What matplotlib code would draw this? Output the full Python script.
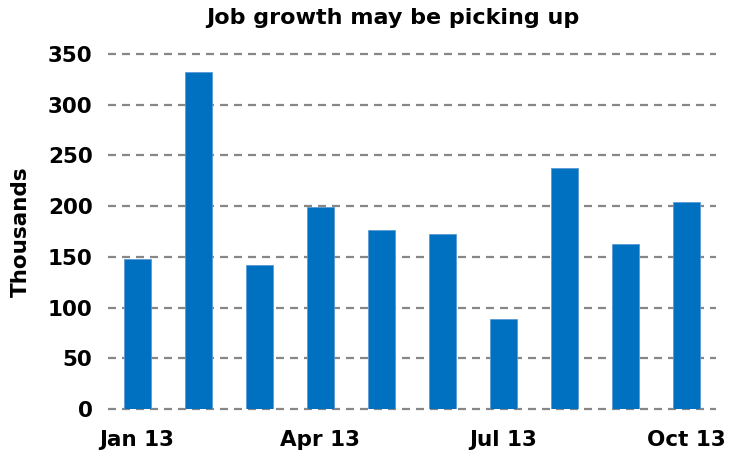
import matplotlib
matplotlib.use("Agg")
import matplotlib.pyplot as plt

months = ["Jan 13", "Feb 13", "Mar 13", "Apr 13", "May 13", "Jun 13",
          "Jul 13", "Aug 13", "Sep 13", "Oct 13"]
jobs = [148, 332, 142, 199, 177, 173, 89, 238, 163, 204]
shown_ticks = ["Jan 13", "Apr 13", "Jul 13", "Oct 13"]
yticks = [0, 50, 100, 150, 200, 250, 300, 350]

BLUE = "#0070C0"
GRID = "#878787"

fig = plt.figure(figsize=(7.44, 4.54), dpi=100)
ax = fig.add_axes([0.145, 0.099, 0.817, 0.782])

x = list(range(len(months)))
ax.bar(x, jobs, width=0.44, color=BLUE, edgecolor="#5b9bd5", linewidth=0.6, zorder=3)

ax.set_xlim(-0.48, len(months) - 0.52)
ax.set_ylim(0, 350)
ax.set_yticks(yticks)
ax.set_yticklabels([str(v) for v in yticks])
tick_pos = [months.index(m) for m in shown_ticks]
ax.set_xticks(tick_pos)
ax.set_xticklabels(shown_ticks)

for v in yticks:
    ax.axhline(v, color=GRID, linewidth=1.6, linestyle=(0, (3.6, 2.7)), zorder=1,
               clip_on=False)

for s in ax.spines.values():
    s.set_visible(False)
ax.tick_params(axis="both", length=0, labelsize=15.5)
ax.tick_params(axis="y", pad=11)
ax.tick_params(axis="x", pad=15)
for lab in ax.get_xticklabels() + ax.get_yticklabels():
    lab.set_fontweight("bold")

ax.set_ylabel("Thousands", fontsize=15.5, fontweight="bold", labelpad=12)
fig.text(0.528, 0.96, "Job growth may be picking up", ha="center", va="center",
         fontsize=16, fontweight="bold")

fig.savefig("out.png", dpi=100)
